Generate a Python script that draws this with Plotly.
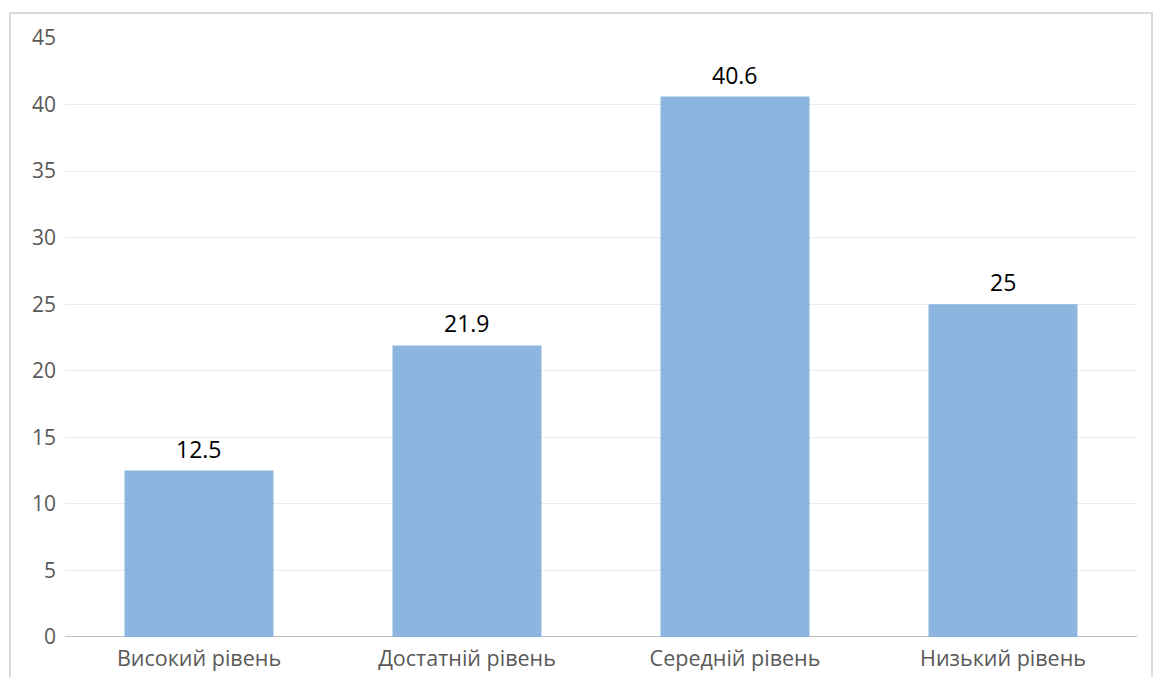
import plotly.graph_objects as go

categories = ["Високий рівень", "Достатній рівень", "Середній рівень", "Низький рівень"]
values = [12.5, 21.9, 40.6, 25]
y_ticks = [0, 5, 10, 15, 20, 25, 30, 35, 40, 45]

W, H = 1165, 677
L, R, T, B = 65, 28, 38, 40
pw, ph = W - L - R, H - T - B

fig = go.Figure()
fig.add_trace(go.Bar(
    x=categories,
    y=values,
    width=0.556,
    marker=dict(color="rgba(134,178,222,0.95)", line=dict(width=0)),
    cliponaxis=False,
))

# value labels above each bar
for cat, v in zip(categories, values):
    fig.add_annotation(
        x=cat, y=v, xref="x", yref="y",
        text=f"{v:g}", showarrow=False,
        yanchor="bottom", yshift=4,
        font=dict(family="Open Sans", size=23, color="#000000"),
    )

# outer frame of the chart area
fig.add_shape(
    type="rect", xref="paper", yref="paper",
    x0=(10 - L) / pw, x1=(1152 - L) / pw,
    y0=-0.2, y1=1 + (T - 13) / ph,
    line=dict(color="#D9D9D9", width=2), fillcolor="rgba(0,0,0,0)", layer="below",
)

fig.update_layout(
    width=W, height=H,
    margin=dict(l=L, r=R, t=T, b=B),
    paper_bgcolor="white", plot_bgcolor="white",
    showlegend=False,
    bargap=0.444,
    font=dict(family="Open Sans", size=21.5, color="#595959"),
    xaxis=dict(
        showgrid=False, showline=False, ticks="",
        tickfont=dict(size=21.5, color="#595959"),
        ticklabelstandoff=6,
        automargin=False,
        fixedrange=True,
    ),
    yaxis=dict(
        range=[0, 45], tickvals=y_ticks,
        showgrid=True, gridcolor="#EBEBEB", gridwidth=1,
        zeroline=False, showline=False, ticks="",
        tickfont=dict(size=21, color="#595959"),
        ticklabelstandoff=8,
        automargin=False,
    ),
)

# baseline at zero
fig.add_shape(type="line", xref="paper", yref="y", x0=0, x1=1, y0=0, y1=0,
              line=dict(color="#BFBFBF", width=2), layer="below")

fig.write_html("out.html")
